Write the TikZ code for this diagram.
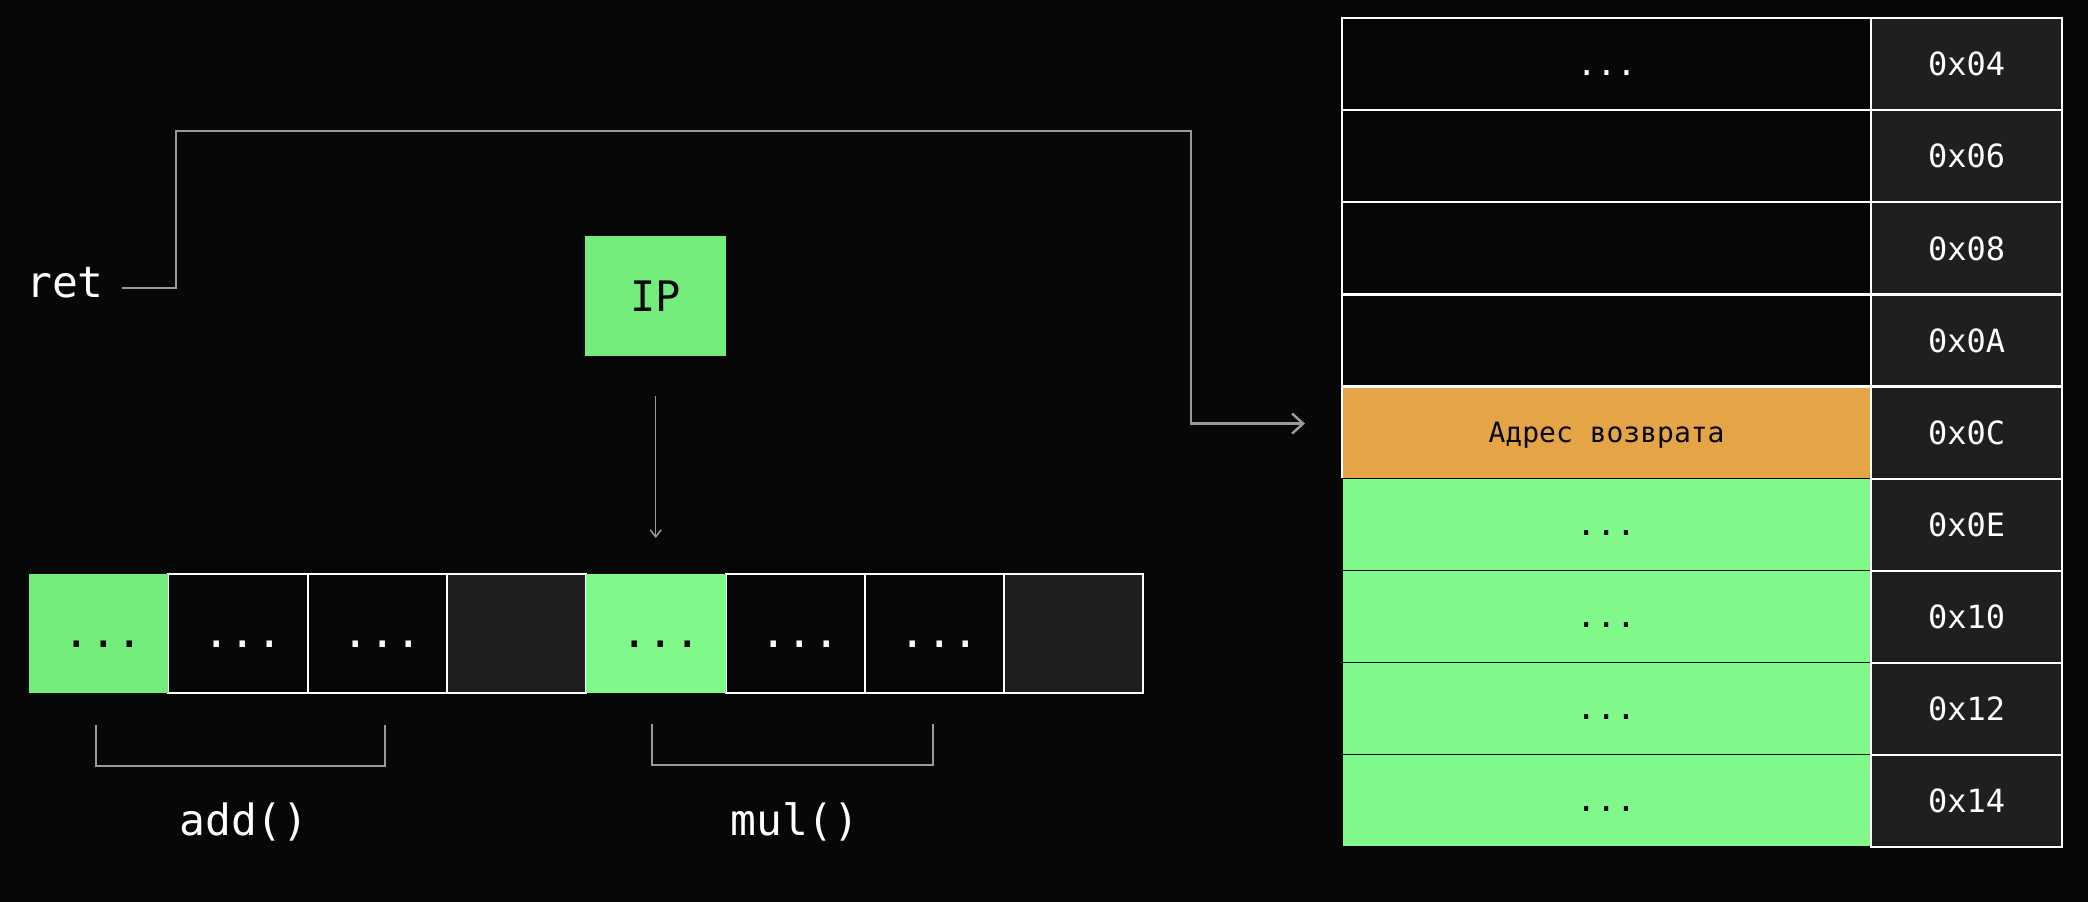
\documentclass[tikz,border=0pt]{standalone}
\usepackage{fontspec}
\setmainfont{DejaVu Sans Mono}
\usetikzlibrary{arrows.meta}
\definecolor{bg}{HTML}{070707}
\definecolor{gA}{HTML}{74EC7C}
\definecolor{gB}{HTML}{80F98A}
\definecolor{dk}{HTML}{1F1F1F}
\definecolor{org}{HTML}{E5A547}
\definecolor{ln}{HTML}{9A9A9A}
\newcommand{\mdots}{\hspace*{10pt}...}
\begin{document}
\begin{tikzpicture}[x=1pt,y=-1pt,
  every node/.style={inner sep=0pt, text depth=0pt},
  memcell/.style={rectangle, minimum width=139.3pt, minimum height=119pt, anchor=north west,
    draw=white, line width=2pt, fill=bg, text=white, font=\fontsize{44}{50}\selectfont,
    text height=27pt},
  memgreen/.style={memcell, draw=none, text=bg},
  stackcell/.style={rectangle, minimum width=529pt, minimum height=92.1pt, anchor=north west,
    draw=white, line width=2.2pt, fill=bg, text=white, font=\fontsize{33}{40}\selectfont,
    text height=22pt},
  stackgreen/.style={stackcell, fill=gB, draw=bg, line width=1.5pt, text=bg},
  addrcell/.style={rectangle, minimum width=191pt, minimum height=92.1pt, anchor=north west,
    draw=white, line width=2.2pt, fill=dk, text=white, font=\fontsize{32}{38}\selectfont,
    text height=23.4pt},
  bigtext/.style={text=white, font=\fontsize{43}{50}\selectfont, anchor=base},
  conn/.style={draw=ln, line width=2.5pt},
  bracket/.style={draw=ln, line width=2.5pt},
  tipA/.style={-{Straight Barb[length=11pt,width=20pt,line width=2.5pt]}},
  tipB/.style={-{Straight Barb[length=7pt,width=11pt,line width=1.5pt]}}
]
\fill[bg] (0,0) rectangle (2088,902);
\useasboundingbox (0,0) rectangle (2088,902);

% memory strip
\node[memcell] (c1) at (167.3,573) {\mdots};
\node[memcell] (c2) at (306.6,573) {\mdots};
\node[memcell, fill=dk] (c3) at (445.9,573) {};
\node[memcell] (c5) at (724.5,573) {\mdots};
\node[memcell] (c6) at (863.8,573) {\mdots};
\node[memcell, fill=dk] (c7) at (1003.1,573) {};
\node[memgreen, fill=gA] (c0) at (28,573) {\mdots};
\node[memgreen, fill=gB] (c4) at (585.2,573) {\mdots};

% IP register
\node[rectangle, fill=gA, minimum width=141pt, minimum height=120pt, anchor=north west,
  text=bg, font=\fontsize{42}{50}\selectfont, text height=30.6pt] (ip) at (585,236) {IP};
\draw[conn, line width=1.5pt, tipB, shorten <=40pt, shorten >=35pt] (ip.south) -- (c4.north -| ip.south);

% ret label and connector
\node[bigtext] (ret) at (65,297) {ret};
\coordinate (retstart) at (122,288);
\coordinate (b1) at (176,131);
\coordinate (b2) at (1191,422);

% brackets and function labels
\draw[bracket] (96,725) |- (385,766) -- (385,725);
\draw[bracket] (652,724) |- (933,765) -- (933,724);
\node[bigtext] (add) at (244,835) {add()};
\node[bigtext] (mul) at (795,835) {mul()};

% stack
\node[stackcell] (s0) at (1341,17) {...};
\node[stackcell] (s1) at (1341,109.1) {};
\node[stackcell] (s2) at (1341,201.2) {};
\node[stackcell] (s3) at (1341,293.3) {};
\node[stackcell, fill=org, text=bg, font=\fontsize{28}{34}\selectfont, text height=20.4pt] (s4) at (1341,385.4) {Адрес возврата};
\node[stackgreen] (s5) at (1341,477.5) {...};
\node[stackgreen] (s6) at (1341,569.6) {...};
\node[stackgreen] (s7) at (1341,661.7) {...};
\node[stackgreen] (s8) at (1341,753.8) {...};

\node[addrcell] (a0) at (1870,17) {0x04};
\node[addrcell] (a1) at (1870,109.1) {0x06};
\node[addrcell] (a2) at (1870,201.2) {0x08};
\node[addrcell] (a3) at (1870,293.3) {0x0A};
\node[addrcell] (a4) at (1870,385.4) {0x0C};
\node[addrcell] (a5) at (1870,477.5) {0x0E};
\node[addrcell] (a6) at (1870,569.6) {0x10};
\node[addrcell] (a7) at (1870,661.7) {0x12};
\node[addrcell] (a8) at (1870,753.8) {0x14};

\draw[conn, tipA] (retstart) -| (b1) -| (b2) |- ([xshift=-36pt,yshift=9pt]s4.west);
\end{tikzpicture}
\end{document}
